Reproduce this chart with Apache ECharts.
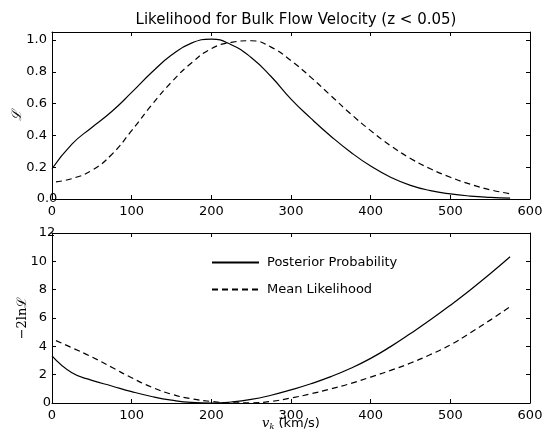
<!DOCTYPE html>
<html>
<head>
<meta charset="utf-8">
<script src="https://cdn.jsdelivr.net/npm/echarts@6/dist/echarts.min.js"></script>
<style>html,body{margin:0;padding:0;background:#fff}#c{width:544px;height:433px}</style>
</head>
<body>
<div id="c"></div>
<script>
var titleText = 'Likelihood for Bulk Flow Velocity (z < 0.05)';
var seriesNames = ['Posterior Probability', 'Mean Likelihood'];
var xTicks = [0, 100, 200, 300, 400, 500, 600];
var topYTicks = [0.0, 0.2, 0.4, 0.6, 0.8, 1.0];
var botYTicks = [0, 2, 4, 6, 8, 10, 12];

var vSolid = [0,25,50,75,100,125,150,175,200,225,250,275,300,325,350,375,400,425,450,475,500,525,550,575];
var lSolid = [0.19,0.345,0.45,0.55,0.67,0.795,0.905,0.98,1.005,0.97,0.89,0.77,0.628,0.507,0.395,0.294,0.207,0.137,0.086,0.053,0.032,0.0185,0.0105,0.0057];
var chi2Solid = [3.32,2.13,1.6,1.2,0.8,0.46,0.2,0.04,0.0,0.07,0.25,0.55,0.93,1.36,1.86,2.45,3.15,3.98,4.9,5.87,6.9,7.98,9.12,10.32];

var vDashed = [5,25,50,75,100,125,150,175,200,225,250,275,300,325,350,375,400,425,450,475,500,525,550,575];
var lDashed = [0.108,0.128,0.18,0.28,0.43,0.59,0.735,0.855,0.945,0.985,0.995,0.955,0.87,0.765,0.65,0.535,0.43,0.335,0.255,0.19,0.137,0.093,0.058,0.033];
var chi2Dashed = [4.4,3.9,3.25,2.52,1.78,1.12,0.62,0.3,0.11,0.02,0.01,0.12,0.35,0.65,1.0,1.38,1.83,2.3,2.82,3.42,4.1,4.95,5.85,6.8];

function pairs(xs, ys){ return xs.map(function(x,i){ return [x, ys[i]]; }); }

var font = 'DejaVu Sans';
var tickLen = 4;
function xAx(gi, pos, showLabels, name){
  var o = {
    type: 'value', gridIndex: gi, position: pos, min: xTicks[0], max: xTicks[xTicks.length-1], interval: 100,
    axisLine: {show: true, onZero: false, lineStyle: {color: '#000', width: 1}},
    axisTick: {show: true, inside: true, length: tickLen, lineStyle: {color: '#000'}},
    axisLabel: {show: showLabels, color: '#000', fontFamily: font, fontSize: 13, margin: 6,
      alignMinLabel: 'center', alignMaxLabel: 'center', hideOverlap: false},
    splitLine: {show: false}
  };
  if (name) {
    o.name = name;
    o.nameLocation = 'middle';
    o.nameGap = 14;
    o.nameMoveOverlap = false;
    o.nameTextStyle = {
      color: '#000', fontFamily: font, fontSize: 13, verticalAlign: 'top',
      rich: {
        v: {fontFamily: 'DejaVu Serif', fontStyle: 'italic', fontSize: 13, color: '#000'},
        k: {fontFamily: 'DejaVu Serif', fontStyle: 'italic', fontSize: 8, color: '#000', verticalAlign: 'bottom', padding: [6,0,0,0]},
        t: {fontFamily: font, fontSize: 13, color: '#000'}
      }
    };
  }
  return o;
}
function yAx(gi, pos, showLabels, max, interval, fmt, name, nameGap, nameStyle){
  var o = {
    type: 'value', gridIndex: gi, position: pos, min: 0, max: max, interval: interval,
    axisLine: {show: true, onZero: false, lineStyle: {color: '#000', width: 1}},
    axisTick: {show: true, inside: true, length: tickLen, lineStyle: {color: '#000'}},
    axisLabel: {show: showLabels, color: '#000', fontFamily: font, fontSize: 13, margin: 5, formatter: fmt,
      alignMinLabel: 'center', alignMaxLabel: 'center', hideOverlap: false},
    splitLine: {show: false}
  };
  if (name) {
    o.name = name;
    o.nameLocation = 'middle';
    o.nameRotate = 90;
    o.nameGap = nameGap;
    o.nameMoveOverlap = false;
    o.nameTextStyle = Object.assign({color: '#000', fontFamily: 'DejaVu Serif', fontSize: 13}, nameStyle || {});
  }
  return o;
}

var topFmt = function(v){ return Math.abs(v*5 - Math.round(v*5)) < 1e-6 ? v.toFixed(1) : ''; };
var botFmt = function(v){ return botYTicks.indexOf(v) >= 0 ? String(v) : ''; };

var solidStyle = {color: '#000', width: 1.2, type: 'solid'};
var dashedStyle = {color: '#000', width: 1.2, type: [6, 4]};
var smoothing = 0.5;

var option = {
  animation: false,
  backgroundColor: '#fff',
  title: {
    text: titleText, left: 291, top: 8, textAlign: 'center',
    textStyle: {fontFamily: font, fontSize: 15, fontWeight: 'normal', color: '#000'}
  },
  legend: {
    data: seriesNames,
    orient: 'vertical', left: 211, top: 256, padding: 0,
    itemWidth: 47, itemHeight: 10, itemGap: 14,
    itemStyle: {opacity: 0},
    textStyle: {fontFamily: font, fontSize: 13, color: '#000', padding: [0,0,0,3]}
  },
  grid: [
    {left: 52, right: 14, top: 32, height: 167, outerBoundsMode: 'none', containLabel: false},
    {left: 52, right: 14, top: 233, height: 170, outerBoundsMode: 'none', containLabel: false}
  ],
  xAxis: [
    xAx(0, 'bottom', true),
    xAx(0, 'top', false),
    xAx(1, 'bottom', true, '{v|v}{k|k}{t| (km/s)}'),
    xAx(1, 'top', false)
  ],
  yAxis: [
    yAx(0, 'left', true, 1.05, 0.2, topFmt, '\u2112', 28, {fontStyle: 'italic'}),
    yAx(0, 'right', false, 1.05, 0.2),
    yAx(1, 'left', true, 12, 2, botFmt, '\u22122ln\u2112', 23, {fontStyle: 'normal'}),
    yAx(1, 'right', false, 12, 2)
  ],
  series: [
    {name: 'top-solid', type: 'line', xAxisIndex: 0, yAxisIndex: 0, data: pairs(vSolid, lSolid), smooth: smoothing, symbol: 'none', lineStyle: solidStyle, itemStyle: {color: '#000'}},
    {name: 'top-dashed', type: 'line', xAxisIndex: 0, yAxisIndex: 0, data: pairs(vDashed, lDashed), smooth: smoothing, symbol: 'none', lineStyle: dashedStyle, itemStyle: {color: '#000'}},
    {name: seriesNames[0], type: 'line', xAxisIndex: 2, yAxisIndex: 2, data: pairs(vSolid, chi2Solid), smooth: smoothing, symbol: 'none', lineStyle: solidStyle, itemStyle: {color: '#000'}},
    {name: seriesNames[1], type: 'line', xAxisIndex: 2, yAxisIndex: 2, data: pairs(vDashed, chi2Dashed), smooth: smoothing, symbol: 'none', lineStyle: dashedStyle, itemStyle: {color: '#000'}}
  ]
};
var chart = echarts.init(document.getElementById('c'), null, {renderer: 'canvas'});
chart.setOption(option);
</script>
</body>
</html>
